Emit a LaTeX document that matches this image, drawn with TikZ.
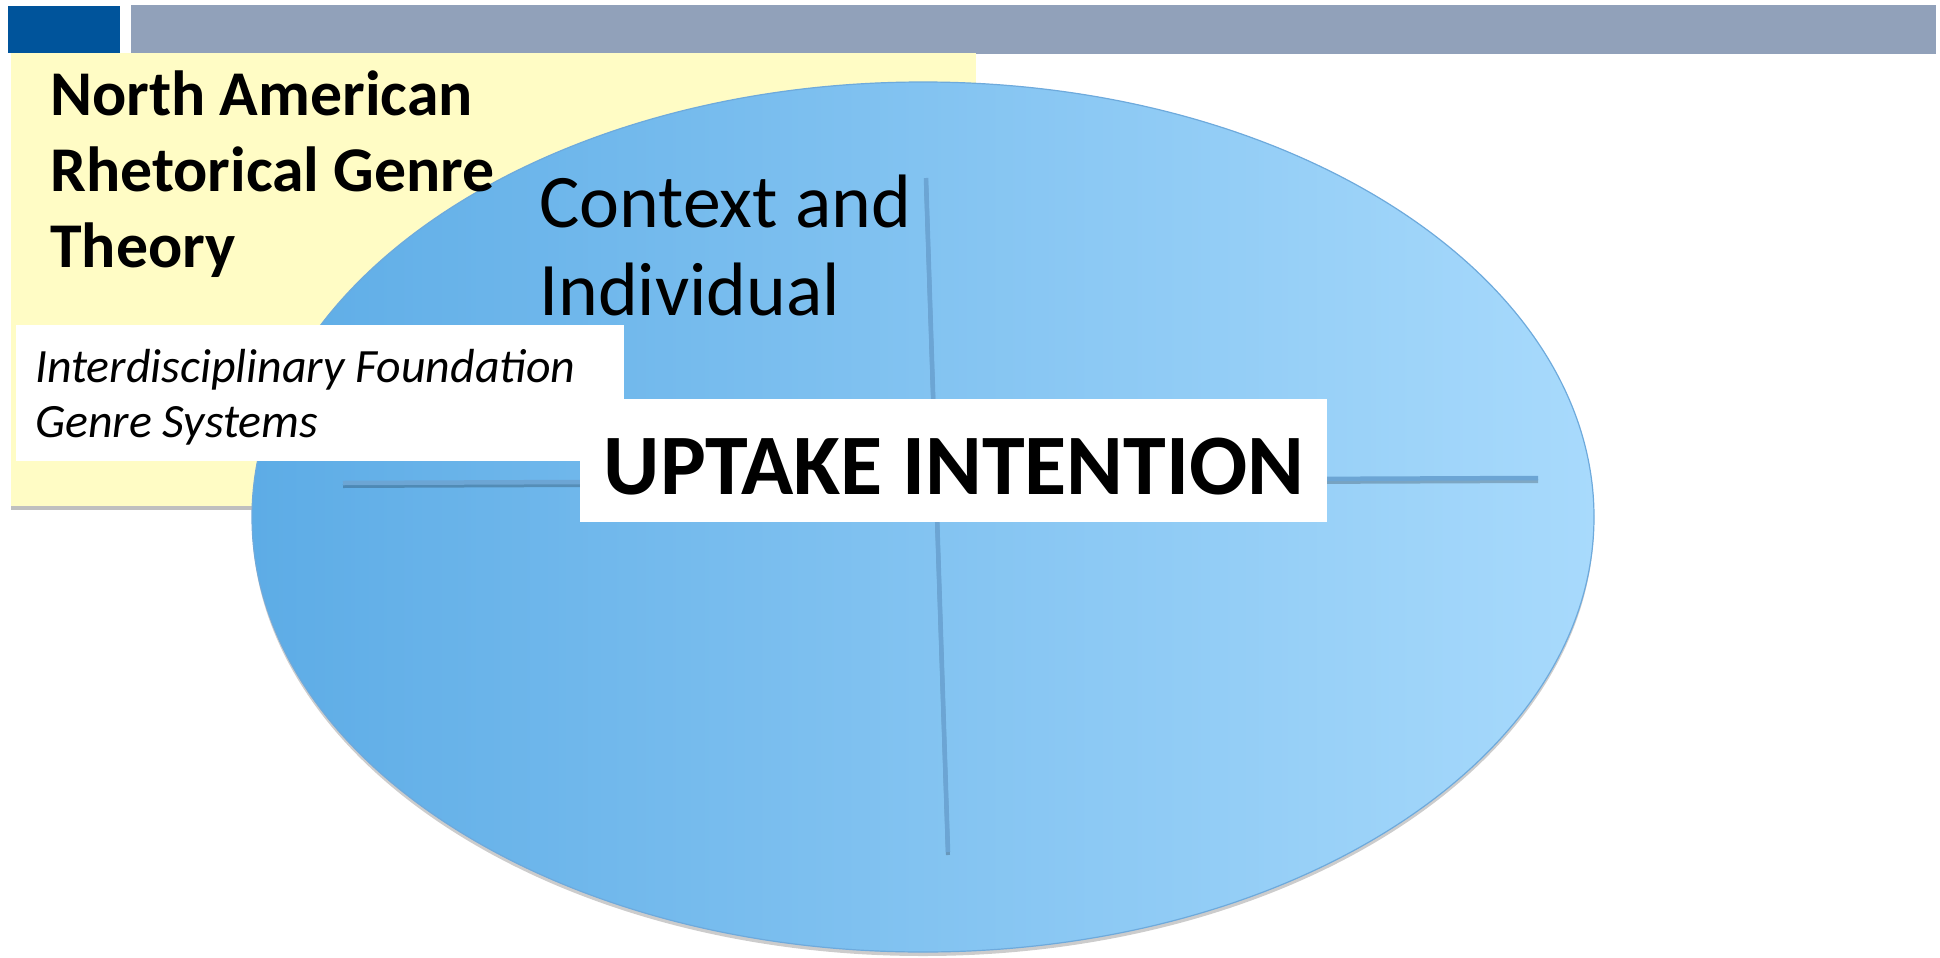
\documentclass[tikz,border=0pt]{standalone}
\usepackage{fontspec}
\setmainfont{Carlito}
\usetikzlibrary{shadows}
\definecolor{barblue}{RGB}{0,84,155}
\definecolor{bargray}{RGB}{145,161,186}
\definecolor{notepad}{RGB}{255,252,197}
\definecolor{ovalleft}{RGB}{93,172,230}
\definecolor{ovalright}{RGB}{168,218,252}
\definecolor{ovalrim}{RGB}{110,170,220}
\definecolor{crossline}{RGB}{108,165,212}
\tikzset{
  notebox/.style={fill=notepad, drop shadow={shadow xshift=0bp, shadow yshift=-4bp, opacity=0.5}},
  oval/.style={draw=ovalrim, line width=1.2bp, left color=ovalleft, right color=ovalright,
    drop shadow={shadow xshift=0bp, shadow yshift=-4bp, opacity=0.4}},
  crossbar/.style={line width=4.5bp, color=crossline,
    preaction={draw=black, opacity=0.22, line width=4bp, transform canvas={yshift=-3bp}}},
  labelbox/.style={fill=white},
  plain/.style={anchor=base west, inner sep=0, align=left}
}

\begin{document}
\begin{tikzpicture}[x=1bp, y=-1bp]
  %%%%% START %%%%%
  \useasboundingbox (0,0) rectangle (1940,958);

  \fill[barblue] (8,6) rectangle (120,53);
  \fill[bargray] (131,5) rectangle (1936,54);

  \path[notebox] (11,53) rectangle (976,506);

  \path[oval] (923,517) ellipse [x radius=671, y radius=435];

  \draw[crossbar] (343,483) -- (1538,478);
  \draw[crossbar] (926,178) -- (948,852);

  % last baselines
  \node[plain, font=\fontsize{76}{88}\selectfont] (context) at (539,315) {Context and\\Individual};

  \node[plain, font=\fontsize{64}{76}\selectfont\bfseries] (title) at (50,267) {North American\\Rhetorical Genre\\Theory};

  \path[labelbox] (16,325) rectangle (624,461);
  \node[plain, font=\fontsize{48}{55}\selectfont\itshape] (foundation) at (35,437) {Interdisciplinary Foundation\\Genre Systems};

  \path[labelbox] (580,399) rectangle (1327,522);
  \node[anchor=base, inner sep=0, font=\fontsize{86.5}{90}\selectfont\bfseries] (uptake) at (954,494) {UPTAKE INTENTION};

  %%%%% END %%%%%
\end{tikzpicture}
\end{document}
